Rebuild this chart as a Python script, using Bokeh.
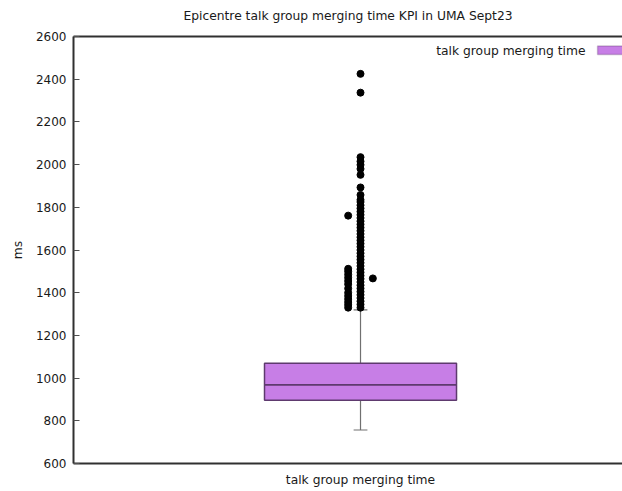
from bokeh.plotting import figure
from bokeh.models import Range1d, FixedTicker, LinearAxis, Label, BoxAnnotation, ColumnDataSource
from bokeh.embed import file_html
from bokeh.resources import INLINE

# ---- data ----
categories = ["talk group merging time"]
series_name = "talk group merging time"
title_text = "Epicentre talk group merging time KPI in UMA Sept23"
y_label = "ms"
whisker_low = [757]
q1 = [896]
median = [968]
q3 = [1070]
whisker_high = [1320]
y_ticks = [600, 800, 1000, 1200, 1400, 1600, 1800, 2000, 2200, 2400, 2600]

outliers_center = [1330, 1345, 1360, 1375, 1390, 1405, 1420, 1435, 1450, 1465, 1480,
                   1495, 1510, 1525, 1540, 1555, 1570, 1585, 1600, 1615, 1630, 1645,
                   1660, 1675, 1690, 1705, 1720, 1735, 1750, 1765, 1780, 1795, 1810,
                   1825, 1835, 1858, 1893, 1952, 1980, 1999, 2015, 2035, 2337, 2425]
outliers_left = [1330, 1343, 1356, 1370, 1385, 1400, 1420, 1440, 1455, 1470, 1485,
                 1500, 1512, 1761]
outliers_right = [1467]

# ---- styles ----
FONT = "DejaVu Sans"
TXT = "12.3px"
TICK = "12px"
TCOL = "#1a1a1a"
BOX_FILL = "#c77ee6"
BOX_LINE = "#5e3a6e"
WHISK = "#707070"
BOX_W = 0.3345
CAP_W = 0.024
JIT = 0.0215

xs = list(range(1, len(categories) + 1))

p = figure(width=622, height=491, output_backend="svg", toolbar_location=None,
           x_range=Range1d(0.5, 1.4564), y_range=Range1d(y_ticks[0], y_ticks[-1]),
           min_border_left=73, min_border_right=0, min_border_top=36, min_border_bottom=28)
p.outline_line_color = None
p.grid.visible = False
p.background_fill_color = "white"

# y axis
ya = p.yaxis[0]
ya.ticker = FixedTicker(ticks=y_ticks)
ya.axis_label = y_label
ya.axis_label_text_font = FONT
ya.axis_label_text_font_size = TXT
ya.axis_label_text_font_style = "normal"
ya.axis_label_text_color = TCOL
ya.axis_label_standoff = 8
ya.major_label_text_font = FONT
ya.major_label_text_font_size = TICK
ya.major_label_text_color = TCOL
ya.major_tick_in = 6
ya.major_tick_out = 0
ya.minor_tick_line_color = None
ya.axis_line_width = 2
ya.axis_line_color = "#303030"
ya.major_tick_line_color = "#505050"
ya.major_label_standoff = 7

# x axis
xa = p.xaxis[0]
xa.ticker = FixedTicker(ticks=xs)
xa.major_label_overrides = {x: c for x, c in zip(xs, categories)}
xa.major_label_text_font = FONT
xa.major_label_text_font_size = TXT
xa.major_label_text_color = TCOL
xa.major_tick_line_color = None
xa.minor_tick_line_color = None
xa.axis_line_width = 2
xa.axis_line_color = "#303030"
xa.major_label_standoff = 3

# top border (no ticks, no labels); its axis label carries the chart title
top = LinearAxis(ticker=FixedTicker(ticks=[]), major_tick_line_color=None,
                 minor_tick_line_color=None, axis_line_width=2,
                 axis_line_color="#303030", axis_label=title_text,
                 axis_label_text_font=FONT, axis_label_text_font_size=TXT,
                 axis_label_text_font_style="normal", axis_label_text_color=TCOL,
                 axis_label_standoff=14)
p.add_layout(top, "above")

src = ColumnDataSource(dict(x=xs, lo=whisker_low, q1=q1, med=median, q3=q3, hi=whisker_high,
                            x0=[x - BOX_W / 2 for x in xs], x1=[x + BOX_W / 2 for x in xs],
                            c0=[x - CAP_W / 2 for x in xs], c1=[x + CAP_W / 2 for x in xs]))

# whiskers
p.segment(x0="x", y0="lo", x1="x", y1="q1", source=src, line_color=WHISK, line_width=1.2)
p.segment(x0="x", y0="q3", x1="x", y1="hi", source=src, line_color=WHISK, line_width=1.2)
p.segment(x0="c0", y0="lo", x1="c1", y1="lo", source=src, line_color=WHISK, line_width=1.2)
p.segment(x0="c0", y0="hi", x1="c1", y1="hi", source=src, line_color=WHISK, line_width=1.2)
# box
p.vbar(x="x", width=BOX_W, bottom="q1", top="q3", source=src, fill_color=BOX_FILL,
       line_color=BOX_LINE, line_width=1.5)
p.segment(x0="x0", y0="med", x1="x1", y1="med", source=src, line_color=BOX_LINE, line_width=1.8)

# outliers
p.scatter([xs[0]] * len(outliers_center), outliers_center, size=7, color="black")
p.scatter([xs[0] - JIT] * len(outliers_left), outliers_left, size=7, color="black")
p.scatter([xs[0] + JIT] * len(outliers_right), outliers_right, size=7, color="black")

# legend (text at left of the swatch, gnuplot style)
p.add_layout(Label(x=1.392, y=2534, text=series_name, text_align="right",
                   text_baseline="middle", text_font=FONT, text_font_size=TXT,
                   text_color=TCOL))
p.add_layout(BoxAnnotation(left=1.413, right=1.6, bottom=2516, top=2556,
                           fill_color=BOX_FILL, fill_alpha=1.0, line_color=BOX_LINE,
                           line_width=1.5))

open("out.html", "w").write(file_html(p, INLINE))
